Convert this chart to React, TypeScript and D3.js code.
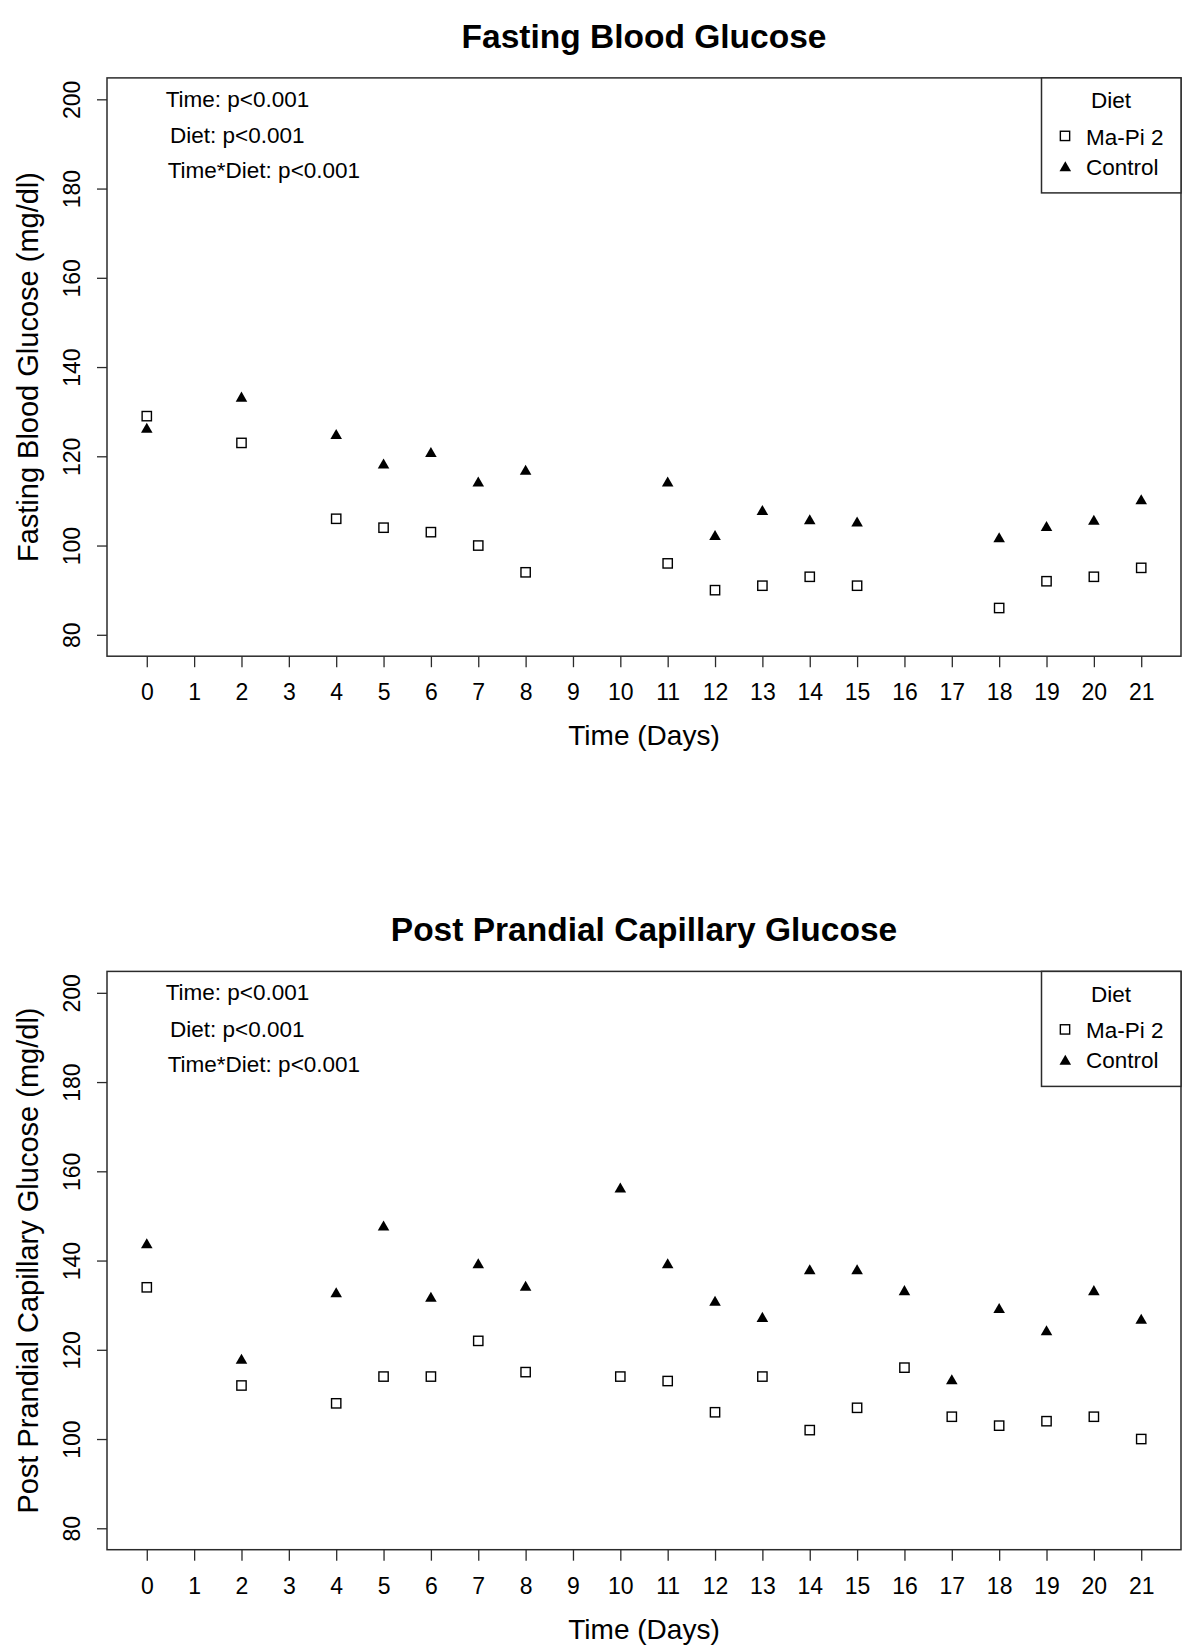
import { useEffect, useRef } from 'react'
import * as d3 from 'd3'

// fasting blood glucose (top panel)
const fastingDays = [0, 2, 4, 5, 6, 7, 8, 11, 12, 13, 14, 15, 18, 19, 20, 21]
const fastingMapi = [129, 123, 106, 104, 103, 100, 94, 96, 90, 91, 93, 91, 86, 92, 93, 95]
const fastingControl = [126, 133, 124.6, 118, 120.6, 114, 116.6, 114, 102, 107.6, 105.5, 105, 101.5, 104, 105.4, 110]

// post prandial capillary glucose (bottom panel)
const ppDays = [0, 2, 4, 5, 6, 7, 8, 10, 11, 12, 13, 14, 15, 16, 17, 18, 19, 20, 21]
const ppMapi = [134, 112, 108, 114, 114, 122, 115, 114, 113, 106, 114, 102, 107, 116, 105, 103, 104, 105, 100]
const ppControl = [143.5, 117.6, 132.5, 147.5, 131.5, 139, 134, 156, 139, 130.6, 127, 137.7, 137.7, 133, 113, 129, 124, 133, 126.6]

const xTicks = d3.range(0, 22)
const yTicks = [80, 100, 120, 140, 160, 180, 200]
const statsLines = ['Time: p<0.001', 'Diet: p<0.001', 'Time*Diet: p<0.001']
const legendItems = ['Ma-Pi 2', 'Control']

const FONT = '"Liberation Sans", Arial, Helvetica, sans-serif'
const INK = '#000'
const FRAME = '#2b2b2b'

const L = 107, R = 1181, PH = 578.3

function triPath(cx: number, cy: number, xc: number) {
  // R pch 17 geometry, centroid at data point
  const r = 1.5551 * xc, w = 1.3468 * xc, yc = 0.7776 * xc
  return `M${cx},${cy - r}L${cx + w},${cy + yc}L${cx - w},${cy + yc}Z`
}

function Panel({ top, title, titleY, ylab, days, mapi, control }:
  { top: number; title: string; titleY: number; ylab: string; days: number[]; mapi: number[]; control: number[] }) {
  const gx = useRef<SVGGElement>(null)
  const gy = useRef<SVGGElement>(null)
  const bottom = top + PH

  const x = d3.scaleLinear().domain([-0.84, 21.84]).range([L, R])
  const y = d3.scaleLinear().domain([75.2, 204.8]).range([bottom, top])

  useEffect(() => {
    d3.select(gx.current).call(d3.axisBottom(x).tickValues(xTicks).tickSize(11).tickFormat(d3.format('d')))
      .call(ax => {
        ax.select('.domain').remove()
        ax.selectAll('line').attr('stroke', FRAME).attr('stroke-width', 1.3)
        ax.selectAll('text').attr('y', 44).attr('dy', null)
          .attr('fill', INK).attr('font-size', 23).attr('font-family', FONT)
      })
    d3.select(gy.current).call(d3.axisLeft(y).tickValues(yTicks).tickSize(10))
      .call(ax => {
        ax.select('.domain').remove()
        ax.selectAll('line').attr('stroke', FRAME).attr('stroke-width', 1.3)
        ax.selectAll('text').attr('x', 0).attr('y', -27).attr('dy', null)
          .attr('transform', 'rotate(-90)').attr('text-anchor', 'middle')
          .attr('fill', INK).attr('font-size', 23).attr('font-family', FONT)
      })
  })

  const sq = 9.3
  return (
    <g>
      <text x={(L + R) / 2} y={titleY} textAnchor="middle" fontFamily={FONT} fontWeight="bold" fontSize={33.5} fill={INK}>{title}</text>
      <rect x={L} y={top} width={R - L} height={PH} fill="none" stroke={FRAME} strokeWidth={1.5} />
      <g ref={gx} transform={`translate(0,${bottom})`} />
      <g ref={gy} transform={`translate(${L},0)`} />
      <text transform={`translate(38,${(top + bottom) / 2}) rotate(-90)`} textAnchor="middle" fontFamily={FONT} fontSize={29} fill={INK}>{ylab}</text>
      <text x={(L + R) / 2} y={bottom + 89} textAnchor="middle" fontFamily={FONT} fontSize={28} fill={INK}>Time (Days)</text>

      {statsLines.map((s, i) => (
        <text key={s} x={[165.7, 170, 167.7][i]} y={top + [28.8, 65.4, 100.4][i]} fontFamily={FONT} fontSize={22.5} fill={INK}>{s}</text>
      ))}

      <rect x={1041.5} y={top} width={R - 1041.5} height={115} fill="#fff" stroke={FRAME} strokeWidth={1.5} />
      <text x={1111} y={top + 30.5} textAnchor="middle" fontFamily={FONT} fontSize={22.5} fill={INK}>Diet</text>
      {legendItems.map((s, i) => (
        <text key={s} x={1086} y={top + 67 + i * 30} fontFamily={FONT} fontSize={22.5} fill={INK}>{s}</text>
      ))}
      <rect x={1065 - sq / 2} y={top + 58 - sq / 2} width={sq} height={sq} fill="none" stroke={INK} strokeWidth={1.4} />
      <path d={triPath(1065.3, top + 90, 4.3)} fill={INK} />

      {days.map((d, i) => (
        <rect key={`m${d}`} x={x(d) - sq / 2} y={y(mapi[i]) - sq / 2} width={sq} height={sq} fill="none" stroke={INK} strokeWidth={1.4} />
      ))}
      {days.map((d, i) => (
        <path key={`c${d}`} d={triPath(x(d), y(control[i]), 4.3)} fill={INK} />
      ))}
    </g>
  )
}

export default function App() {
  return (
    <svg width={1200} height={1649} style={{ position: 'absolute', left: 0, top: 0, background: '#fff' }}>
      <rect width={1200} height={1649} fill="#fff" />
      <Panel top={77.9} title="Fasting Blood Glucose" titleY={48.3} ylab="Fasting Blood Glucose (mg/dl)"
        days={fastingDays} mapi={fastingMapi} control={fastingControl} />
      <Panel top={971.4} title="Post Prandial Capillary Glucose" titleY={941} ylab="Post Prandial Capillary Glucose (mg/dl)"
        days={ppDays} mapi={ppMapi} control={ppControl} />
    </svg>
  )
}
